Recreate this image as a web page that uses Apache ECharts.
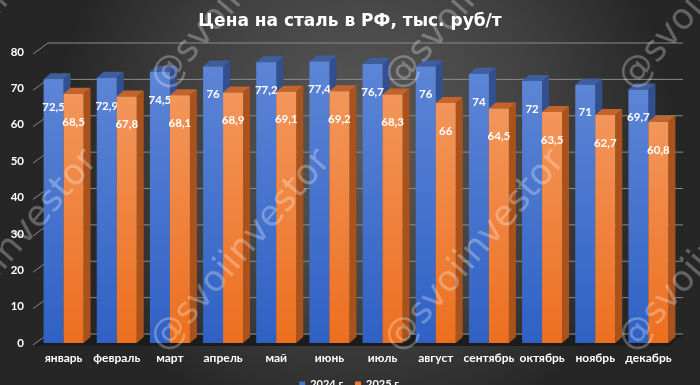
<!DOCTYPE html>
<html>
<head>
<meta charset="utf-8">
<script src="https://cdn.jsdelivr.net/npm/echarts@6/dist/echarts.min.js"></script>
<style>
html,body{margin:0;padding:0;background:#333;}
#chart{width:700px;height:385px;}
</style>
</head>
<body>
<div id="chart"></div>
<script>
const titleText = 'Цена на сталь в РФ, тыс. руб/т';
const months = ['январь','февраль','март','апрель','май','июнь','июль','август','сентябрь','октябрь','ноябрь','декабрь'];
const seriesNames = ['2024 г.', '2025 г.'];
const values2024 = [72.5, 72.9, 74.5, 76, 77.2, 77.4, 76.7, 76, 74, 72, 71, 69.7];
const values2025 = [68.5, 67.8, 68.1, 68.9, 69.1, 69.2, 68.3, 66, 64.5, 63.5, 62.7, 60.8];
const yTicks = [0, 10, 20, 30, 40, 50, 60, 70, 80];
const watermarkText = '@svoiinvestor';

const FONT = 'Lato, "DejaVu Sans", sans-serif';
const palettes = [
  {front: ['#5d85d6', '#2f61c4'], side: '#32508f', top: '#3f5e9e', legend: '#4472c4'},
  {front: ['#f3965b', '#ec6f1f'], side: '#a9521b', top: '#c2642b', legend: '#ed7d31'}
];
const DX = 7, DY = 6;

function fmt(v) { return String(v).replace('.', ','); }

function makeBarRender(k) {
  const pal = palettes[k];
  return function (params, api) {
    const idx = api.value(0), v = api.value(1);
    const band = api.size([1, 0])[0];
    const w = band * 0.376;
    const pTop = api.coord([idx, v]);
    const pBot = api.coord([idx, 0]);
    const cx = pTop[0];
    const x0 = k === 0 ? cx - w : cx;
    const x1 = x0 + w;
    const yt = pTop[1], yb = pBot[1];
    return {
      type: 'group',
      children: [
        {type: 'polygon', shape: {points: [[x1, yt], [x1 + DX, yt - DY], [x1 + DX, yb - DY], [x1, yb]]}, style: {fill: pal.side}},
        {type: 'polygon', shape: {points: [[x0, yt], [x0 + DX, yt - DY], [x1 + DX, yt - DY], [x1, yt]]}, style: {fill: pal.top}},
        {type: 'rect', shape: {x: x0, y: yt, width: w, height: yb - yt},
          style: {fill: new echarts.graphic.LinearGradient(0, 0, 0, 1, [{offset: 0, color: pal.front[0]}, {offset: 1, color: pal.front[1]}])}},
        {type: 'text', style: {text: fmt(v), x: x0 + w / 2, y: yt + 28, fill: '#ffffff',
          fontSize: 11.5, fontWeight: 'bold', fontFamily: FONT, align: 'center', verticalAlign: 'middle'}}
      ]
    };
  };
}

function gridRender(params, api) {
  const cs = params.coordSys;
  const v = api.value(1);
  const y = api.coord([0, v])[1];
  const children = [];
  if (v === 0) {
    children.push({type: 'polygon', shape: {points: [[cs.x - 4, y + 3], [cs.x + 11, y - 8], [cs.x + cs.width + 8, y - 8], [cs.x + cs.width - 6, y + 3]]},
      style: {fill: '#1c1c1c'}});
  }
  children.push({type: 'polyline', shape: {points: [[cs.x - 4, y + 2], [cs.x + 11, y - 9], [cs.x + cs.width + 8, y - 9]]},
    style: {stroke: '#8a8a8a', lineWidth: 1, fill: null}});
  return {type: 'group', children: children};
}

const wmPositions = [[-63, 75], [170, 75], [404, 75], [638, 75], [-63, 337], [170, 337], [404, 337], [638, 337]];
const graphics = wmPositions.map(p => ({
  type: 'text', x: p[0] - 12, y: p[1] + 10, rotation: 49 * Math.PI / 180, z: 100, silent: true,
  style: {text: watermarkText, fill: 'rgba(255,255,255,0.28)', fontSize: 36, fontFamily: '"DejaVu Sans", sans-serif',
    align: 'left', verticalAlign: 'middle'}
}));

const chart = echarts.init(document.getElementById('chart'), null, {renderer: 'canvas'});
chart.setOption({
  backgroundColor: {type: 'radial', x: 0.52, y: 0.35, r: 0.8,
    colorStops: [{offset: 0, color: '#5a5a5a'}, {offset: 0.6, color: '#404040'}, {offset: 1, color: '#262626'}]},
  title: {text: titleText, left: 'center', top: 8,
    textStyle: {color: '#ffffff', fontSize: 17, fontWeight: 'bold', fontFamily: '"DejaVu Sans", sans-serif'}},
  legend: {data: seriesNames, left: 'center', top: 374, icon: 'rect', itemWidth: 6, itemHeight: 6, itemGap: 10,
    textStyle: {color: '#ffffff', fontSize: 11, fontWeight: 'bold', fontFamily: FONT}},
  grid: {left: 37, right: 25, top: 52, bottom: 42},
  xAxis: {type: 'category', data: months, axisLine: {show: false}, axisTick: {show: false},
    axisLabel: {color: '#ffffff', fontSize: 12, fontWeight: 'bold', fontFamily: FONT, margin: 9, interval: 0}},
  yAxis: {type: 'value', min: 0, max: 80, interval: 10, axisLine: {show: false}, axisTick: {show: false}, splitLine: {show: false},
    axisLabel: {color: '#ffffff', fontSize: 11.5, fontWeight: 'bold', fontFamily: FONT, margin: 13}},
  graphic: graphics,
  series: [
    {type: 'custom', name: '_grid', renderItem: gridRender, data: yTicks.map(v => [0, v]), silent: true, z: 1},
    {type: 'custom', name: seriesNames[0], renderItem: makeBarRender(0), itemStyle: {color: palettes[0].legend},
      data: values2024.map((v, i) => [i, v]), z: 2},
    {type: 'custom', name: seriesNames[1], renderItem: makeBarRender(1), itemStyle: {color: palettes[1].legend},
      data: values2025.map((v, i) => [i, v]), z: 2}
  ]
});
</script>
</body>
</html>
